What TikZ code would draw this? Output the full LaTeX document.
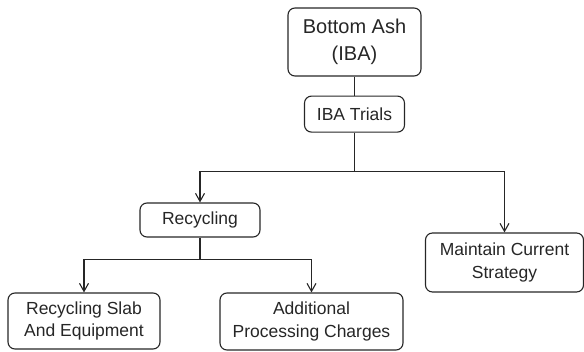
\documentclass[tikz,border=0pt]{standalone}
\usepackage{fontspec}
\setmainfont{Liberation Sans}
\usetikzlibrary{arrows.meta, positioning}

\begin{document}
\begin{tikzpicture}[x=1pt, y=1pt,
      box/.style={draw=black!85, line width=1.1pt, rounded corners=7pt, align=center, inner sep=0pt, text=black!85, font=\fontsize{17.5}{22.5}\selectfont},
      link/.style={draw=black!85, line width=1.1pt},
      arrow/.style={link, -{Straight Barb[length=8pt, width=9pt]}}
    ]
      \useasboundingbox (0,0) rectangle (584,-352);

      % Root and trials
      \node[box, minimum width=133pt, minimum height=68pt, font=\fontsize{20}{27}\selectfont] (ash) at (354.5,-42) {Bottom Ash\\(IBA)};
      \node[box, minimum width=100pt, minimum height=36pt, anchor=north] (trials) at ([yshift=-19pt]ash.south) {IBA Trials};

      % First split - relative to trials
      \coordinate (hub) at ([yshift=-39pt]trials.south);
      \node[box, minimum width=120pt, minimum height=34pt] (recycling) at (200,-220) {Recycling};
      \node[box, minimum width=158pt, minimum height=59pt] (strategy) at (504.5,-262.5) {Maintain Current\\Strategy};

      % Second split - relative to recycling
      \coordinate (subhub) at ([yshift=-22pt]recycling.south);
      \node[box, minimum width=152pt, minimum height=56pt] (slab) at (84,-321) {Recycling Slab\\And Equipment};
      \node[box, minimum width=183pt, minimum height=57pt] (charges) at (311.5,-321.5) {Additional\\Processing Charges};

      % Connectors
      \draw[link] (ash) -- (trials);
      \draw[link] (trials) -- (hub);
      \draw[arrow] (hub) -| (recycling);
      \draw[arrow] (hub) -| (strategy);
      \draw[link] (recycling) -- (subhub);
      \draw[arrow] (subhub) -| (slab);
      \draw[arrow] (subhub) -| (charges);

    \end{tikzpicture}
\end{document}
